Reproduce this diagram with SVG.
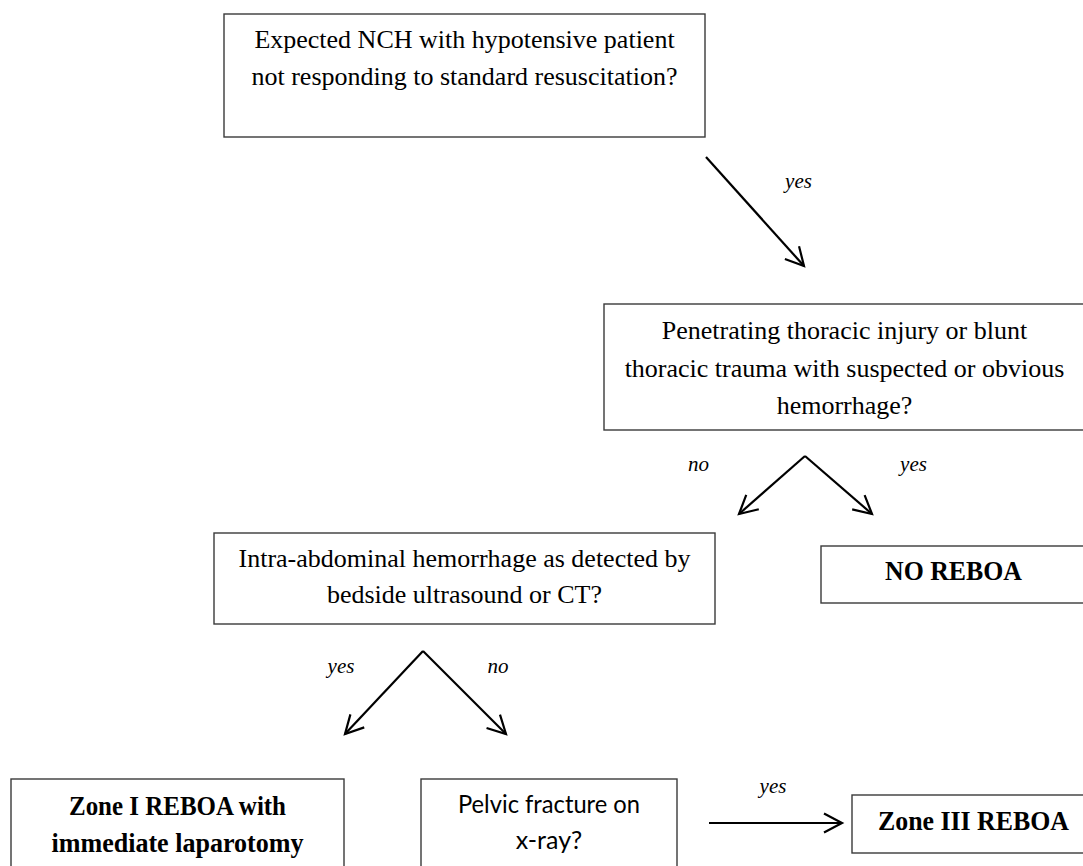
<svg xmlns="http://www.w3.org/2000/svg" width="1083" height="866" viewBox="0 0 1083 866">
  <style>
    .box { fill: #ffffff; stroke: #3a3a3a; stroke-width: 1.4; }
    .q { font-family: "Liberation Serif", "Times New Roman", serif; font-size: 26px; fill: #000; text-anchor: middle; }
    .b { font-family: "Liberation Serif", "Times New Roman", serif; font-size: 28px; font-weight: bold; fill: #000; text-anchor: middle; }
    .s { font-family: Lato, "Liberation Sans", sans-serif; font-size: 25px; fill: #000; text-anchor: middle; }
    .lbl { font-family: "Liberation Serif", "Times New Roman", serif; font-size: 21px; font-style: italic; fill: #000; text-anchor: middle; }
    .con { stroke: #000; stroke-width: 2.2; fill: none; marker-end: url(#arr); }
  </style>
  <defs>
    <marker id="arr" markerUnits="userSpaceOnUse" viewBox="-22 -14 26 28" refX="0" refY="0" markerWidth="26" markerHeight="28" orient="auto" overflow="visible">
      <path d="M-18,-9.5 L0,0 L-18,9.5" fill="none" stroke="#000" stroke-width="2.2" stroke-linejoin="miter"/>
    </marker>
  </defs>
  <rect width="1083" height="866" fill="#ffffff"/>

  <g id="n1">
    <rect class="box" x="224" y="14" width="481" height="123"/>
    <text class="q" x="464.5" y="48">Expected NCH with hypotensive patient</text>
    <text class="q" x="464.5" y="85">not responding to standard resuscitation?</text>
  </g>

  <g id="n2">
    <rect class="box" x="604" y="304" width="486" height="126"/>
    <text class="q" x="844.5" y="339">Penetrating thoracic injury or blunt</text>
    <text class="q" x="844.5" y="377">thoracic trauma with suspected or obvious</text>
    <text class="q" x="844.5" y="414">hemorrhage?</text>
  </g>

  <g id="n3">
    <rect class="box" x="821" y="546" width="270" height="57"/>
    <text class="b" x="953.5" y="580" textLength="137" lengthAdjust="spacingAndGlyphs">NO REBOA</text>
  </g>

  <g id="n4">
    <rect class="box" x="214" y="533" width="501" height="91"/>
    <text class="q" x="464.5" y="567">Intra-abdominal hemorrhage as detected by</text>
    <text class="q" x="464.5" y="603">bedside ultrasound or CT?</text>
  </g>

  <g id="n5">
    <rect class="box" x="11" y="779" width="333" height="100"/>
    <text class="b" x="177.5" y="815" textLength="217" lengthAdjust="spacingAndGlyphs">Zone I REBOA with</text>
    <text class="b" x="177.5" y="852" textLength="252" lengthAdjust="spacingAndGlyphs">immediate laparotomy</text>
  </g>

  <g id="n6">
    <rect class="box" x="421" y="779" width="256" height="100"/>
    <text class="s" x="549" y="813" textLength="182" lengthAdjust="spacingAndGlyphs">Pelvic fracture on</text>
    <text class="s" x="549" y="849">x-ray?</text>
  </g>

  <g id="n7">
    <rect class="box" x="852" y="795" width="245" height="58"/>
    <text class="b" x="973.5" y="830" textLength="191" lengthAdjust="spacingAndGlyphs">Zone III REBOA</text>
  </g>

  <g id="connectors">
    <line class="con" x1="706" y1="157" x2="804" y2="266"/>
    <text class="lbl" x="798.5" y="188">yes</text>

    <line class="con" x1="805" y1="456" x2="739" y2="514"/>
    <line class="con" x1="805" y1="456" x2="872" y2="514"/>
    <text class="lbl" x="698.5" y="471">no</text>
    <text class="lbl" x="913.5" y="471">yes</text>

    <line class="con" x1="423" y1="651" x2="345" y2="734"/>
    <line class="con" x1="423" y1="651" x2="506" y2="734"/>
    <text class="lbl" x="341" y="673">yes</text>
    <text class="lbl" x="498" y="673">no</text>

    <line class="con" x1="709" y1="823" x2="842" y2="823"/>
    <text class="lbl" x="773" y="793">yes</text>
  </g>
</svg>
